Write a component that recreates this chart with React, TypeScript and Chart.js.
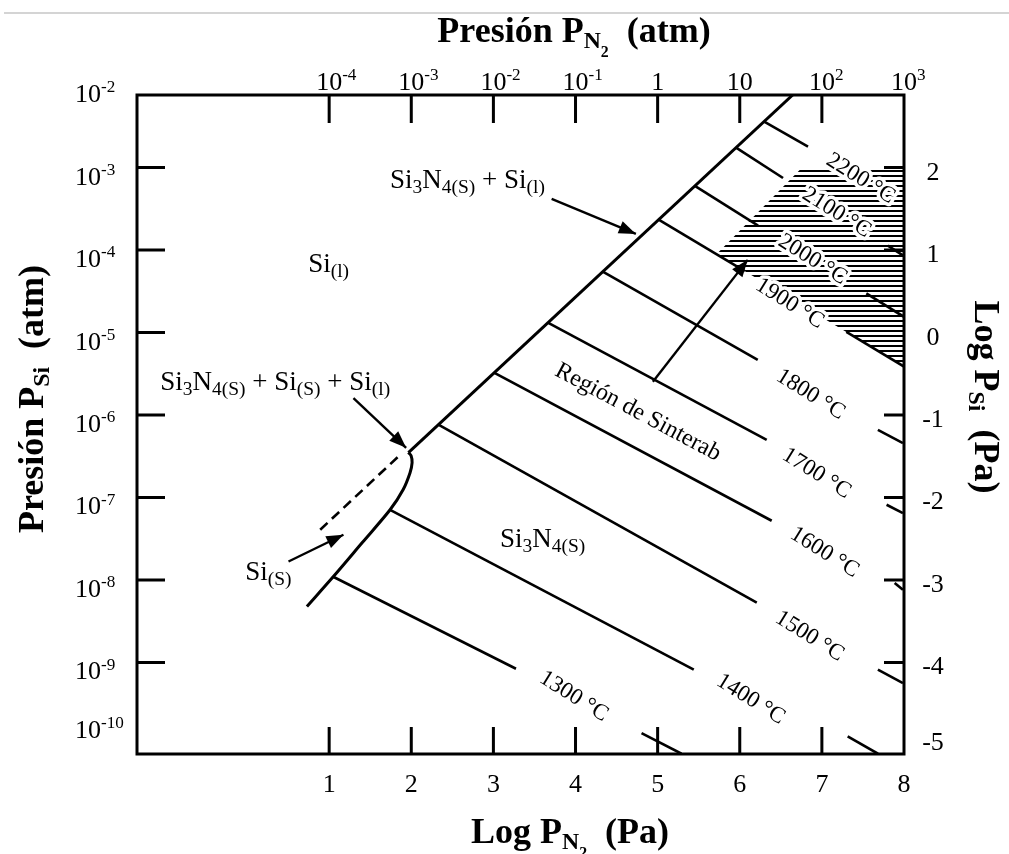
import React, { useEffect, useRef } from "react";
import { Chart, registerables } from "chart.js";

Chart.register(...registerables);

type Pt = [number, number];

const SERIF = '"Liberation Serif", "Times New Roman", serif';

// Axis ranges in log10(Pa)
const X_MIN = -1.34;
const X_MAX = 8.0;
const Y_MIN = -5.11;
const Y_MAX = 2.88;
const ATM_LOG_PA = 5; // 1 atm ~ 10^5 Pa

// Tick definitions
const topTickExponents = [-4, -3, -2, -1, 0, 1, 2];
const topLabelExponents = [-4, -3, -2, -1, 0, 1, 2, 3];
const leftTickExponents = [-3, -4, -5, -6, -7, -8, -9];
const leftLabelExponents = [-2, -3, -4, -5, -6, -7, -8, -9, -10];
const bottomTicks = [1, 2, 3, 4, 5, 6, 7];
const bottomLabels = [1, 2, 3, 4, 5, 6, 7, 8];
const rightTicks = [2, 1, -1, -2, -3, -4];
const rightLabels = [2, 1, 0, -1, -2, -3, -4, -5];

// Phase boundaries (x = log PN2 Pa, y = log PSi Pa)
const mainBoundary: Pt[] = [[1.965, -1.455], [6.644, 2.88]];
const siSolidBoundary: Pt[] = [
  [0.729, -3.321], [1.049, -2.961], [1.401, -2.549], [1.742, -2.149],
  [1.9, -1.907], [1.985, -1.7], [2.01, -1.578], [1.998, -1.494], [1.965, -1.455],
];
const siMeltDashed: Pt[] = [[0.891, -2.391], [1.843, -1.503]];

// Isotherms: visible segments
const isothermTemps = [1300, 1400, 1500, 1600, 1700, 1800, 1900, 2000, 2100, 2200];
const isothermSegments: Pt[][][] = [
  [[[1.049, -2.961], [3.275, -4.076]]],
  [[[1.742, -2.149], [5.44, -4.088]]],
  [[[2.33, -1.116], [6.207, -3.276]]],
  [[[3.007, -0.487], [6.389, -2.282]]],
  [[[3.663, 0.119], [6.328, -1.301]]],
  [[[4.332, 0.739], [6.219, -0.331]]],
  [[[5.012, 1.37], [6.061, 0.745]], [[7.298, 0.008], [8.0, -0.412]]],
  [[[5.453, 1.777], [6.223, 1.297]], [[7.541, 0.476], [7.993, 0.194]]],
  [[[5.955, 2.242], [6.527, 1.874]], [[7.804, 1.053], [7.995, 0.93]]],
  [[[6.292, 2.56], [6.831, 2.255]]],
];
const isothermLabelAt: Pt[] = [
  [3.993, -4.392], [6.146, -4.428], [6.864, -3.664], [7.046, -2.646], [6.949, -1.688],
  [6.876, -0.731], [6.621, 0.372], [6.9, 0.905], [7.192, 1.475], [7.484, 1.887],
];

// Hatched (high temperature) region
const sinterHatch: Pt[] = [[6.751, 1.993], [8.0, 1.993], [8.0, -0.412], [5.717, 0.95], [6.751, 1.993]];

// Short fragments touching the frame
const edgeFragments: Pt[][] = [
  [[4.804, -4.856], [5.291, -5.107]],
  [[7.314, -4.897], [7.683, -5.107]],
  [[7.682, -1.179], [7.987, -1.341]],
  [[7.788, -2.088], [7.987, -2.189]],
  [[7.886, -3.038], [7.987, -3.119]],
  [[7.682, -4.088], [7.987, -4.25]],
];

// Arrows (from -> to)
const arrows: Pt[][] = [
  [[3.709, 1.621], [4.735, 1.196]],
  [[1.296, -0.795], [1.937, -1.397]],
  [[0.505, -2.776], [1.174, -2.452]],
  [[4.942, -0.598], [6.097, 0.881]],
];

// Region labels (left end, baseline)
const regionTexts = [
  "Si_{(l)}",
  "Si_{3}N_{4(S)} + Si_{(l)}",
  "Si_{3}N_{4(S)} + Si_{(S)} + Si_{(l)}",
  "Si_{(S)}",
  "Si_{3}N_{4(S)}",
];
const regionAnchors: Pt[] = [[0.745, 0.736], [1.742, 1.754], [-1.056, -0.695], [-0.022, -2.998], [3.08, -2.598]];
const sinterText = "Región de Sinterab";
const sinterAnchor: Pt = [4.771, -0.949];

const titleTop = "Presión P_{N_{2}}  (atm)";
const titleBottom = "Log P_{N_{2}}  (Pa)";
const titleLeft = "Presión P_{Si}  (atm)";
const titleRight = "Log P_{Si}  (Pa)";

type Seg = { t: string; lvl: number };
function parseRich(s: string): Seg[] {
  const out: Seg[] = [];
  const stack: number[] = [];
  let lvl = 0;
  let buf = "";
  for (let i = 0; i < s.length; i++) {
    const c = s[i];
    if ((c === "_" || c === "^") && s[i + 1] === "{") {
      if (buf) { out.push({ t: buf, lvl }); buf = ""; }
      stack.push(lvl);
      lvl = lvl + (c === "_" ? -1 : 1);
      i++;
      continue;
    }
    if (c === "}" && stack.length) {
      if (buf) { out.push({ t: buf, lvl }); buf = ""; }
      lvl = stack.pop() as number;
      continue;
    }
    buf += c;
  }
  if (buf) out.push({ t: buf, lvl });
  return out;
}
const LVL: Record<string, { scale: number; dy: number }> = {
  "1": { scale: 0.66, dy: -0.38 },
  "0": { scale: 1, dy: 0 },
  "-1": { scale: 0.66, dy: 0.18 },
  "-2": { scale: 0.44, dy: 0.42 },
};
const fontFor = (size: number, bold: boolean) => `${bold ? "bold " : ""}${size}px ${SERIF}`;

type RichOpt = { bold?: boolean; align?: "left" | "center" | "right"; halo?: number; sub?: number };

function lvlOf(s: Seg, opt: RichOpt) {
  const l = LVL[String(s.lvl)];
  if (s.lvl === -1 && opt.sub) return { scale: opt.sub, dy: l.dy };
  return l;
}

function richWidth(ctx: CanvasRenderingContext2D, segs: Seg[], size: number, opt: RichOpt) {
  let w = 0;
  for (const s of segs) {
    const l = lvlOf(s, opt);
    ctx.font = fontFor(size * l.scale, !!opt.bold);
    w += ctx.measureText(s.t).width;
  }
  return w;
}

function drawRich(ctx: CanvasRenderingContext2D, text: string, x: number, y: number, size: number, opt: RichOpt = {}) {
  const segs = parseRich(text);
  const bold = !!opt.bold;
  const w = richWidth(ctx, segs, size, opt);
  const start = opt.align === "center" ? x - w / 2 : opt.align === "right" ? x - w : x;
  ctx.textAlign = "left";
  ctx.textBaseline = "alphabetic";
  const passes = opt.halo ? ["stroke", "fill"] : ["fill"];
  for (const pass of passes) {
    let cx = start;
    for (const s of segs) {
      const l = lvlOf(s, opt);
      ctx.font = fontFor(size * l.scale, bold);
      const yy = y + l.dy * size;
      if (pass === "stroke") {
        ctx.strokeStyle = "#fff";
        ctx.lineWidth = opt.halo as number;
        ctx.lineJoin = "round";
        ctx.strokeText(s.t, cx, yy);
      } else {
        ctx.fillStyle = "#000";
        ctx.fillText(s.t, cx, yy);
      }
      cx += ctx.measureText(s.t).width;
    }
  }
  return w;
}

const atmLabel = (e: number) => (e === 0 ? "1" : e === 1 ? "10" : `10^{${e}}`);

const diagramPlugin = {
  id: "diagram",
  afterDatasetsDraw(chart: any) {
    const ctx: CanvasRenderingContext2D = chart.ctx;
    const xs = chart.scales.x;
    const ys = chart.scales.y;
    const px = (p: Pt) => [xs.getPixelForValue(p[0]), ys.getPixelForValue(p[1])];
    ctx.save();
    // arrowheads
    for (const a of arrows) {
      const [x0, y0] = px(a[0]);
      const [x1, y1] = px(a[1]);
      const d = Math.hypot(x1 - x0, y1 - y0);
      const ux = (x1 - x0) / d, uy = (y1 - y0) / d;
      const L = 17, W = 6.5;
      ctx.beginPath();
      ctx.moveTo(x1, y1);
      ctx.lineTo(x1 - ux * L - uy * W, y1 - uy * L + ux * W);
      ctx.lineTo(x1 - ux * L + uy * W, y1 - uy * L - ux * W);
      ctx.closePath();
      ctx.fillStyle = "#000";
      ctx.fill();
    }
    // region labels
    regionTexts.forEach((t, i) => {
      const [x, y] = px(regionAnchors[i]);
      drawRich(ctx, t, x, y, 27, { align: "left", sub: 0.72 });
    });
    // sinter label
    {
      const [x, y] = px(sinterAnchor);
      ctx.save();
      ctx.translate(x, y);
      ctx.rotate((28 * Math.PI) / 180);
      drawRich(ctx, sinterText, 0, 8, 24, { align: "center" });
      ctx.restore();
    }
    // isotherm labels
    isothermTemps.forEach((t, i) => {
      const [x, y] = px(isothermLabelAt[i]);
      ctx.save();
      ctx.translate(x, y);
      ctx.rotate((32 * Math.PI) / 180);
      drawRich(ctx, `${t} °C`, 0, 8, 23, { align: "center", halo: i >= 6 ? 7 : 0 });
      ctx.restore();
    });
    ctx.restore();
  },
  afterDraw(chart: any) {
    const ctx: CanvasRenderingContext2D = chart.ctx;
    const { left, right, top, bottom } = chart.chartArea;
    const xs = chart.scales.x;
    const ys = chart.scales.y;
    ctx.save();
    // faint page rule
    ctx.strokeStyle = "#d4d4d4";
    ctx.lineWidth = 2;
    ctx.beginPath();
    ctx.moveTo(4, 13);
    ctx.lineTo(chart.width, 13);
    ctx.stroke();

    ctx.strokeStyle = "#000";
    ctx.lineWidth = 3;
    ctx.lineCap = "butt";
    ctx.strokeRect(left, top, right - left, bottom - top);
    ctx.beginPath();
    for (const e of leftTickExponents) {
      const y = ys.getPixelForValue(e + ATM_LOG_PA);
      ctx.moveTo(left, y); ctx.lineTo(left + 28, y);
    }
    for (const e of topTickExponents) {
      const x = xs.getPixelForValue(e + ATM_LOG_PA);
      ctx.moveTo(x, top); ctx.lineTo(x, top + 28);
    }
    for (const v of bottomTicks) {
      const x = xs.getPixelForValue(v);
      ctx.moveTo(x, bottom); ctx.lineTo(x, bottom - 27);
    }
    for (const v of rightTicks) {
      const y = ys.getPixelForValue(v);
      ctx.moveTo(right, y); ctx.lineTo(right - 20, y);
    }
    ctx.stroke();

    const tickSize = 26;
    // top labels: base "10" centred on tick
    for (const e of topLabelExponents) {
      const x = xs.getPixelForValue(e + ATM_LOG_PA);
      const base = e === 0 ? "1" : "10";
      ctx.font = fontFor(tickSize, false);
      const bw = ctx.measureText(base).width;
      drawRich(ctx, atmLabel(e), x - bw / 2, top - 5, tickSize, { align: "left" });
    }
    // left labels
    for (const e of leftLabelExponents) {
      const y = Math.min(ys.getPixelForValue(e + ATM_LOG_PA) + 17, bottom - 16);
      drawRich(ctx, atmLabel(e), left - 62, y, tickSize, { align: "left" });
    }
    // bottom labels
    for (const v of bottomLabels) {
      const x = xs.getPixelForValue(v);
      drawRich(ctx, String(v), x, bottom + 38, tickSize, { align: "center" });
    }
    // right labels
    for (const v of rightLabels) {
      const y = Math.min(ys.getPixelForValue(v) + 12, bottom - 4);
      drawRich(ctx, String(v), right + 29, y, tickSize, { align: "center" });
    }

    // titles
    const tSize = 36;
    drawRich(ctx, titleTop, 574, 42, tSize, { bold: true, align: "center" });
    drawRich(ctx, titleBottom, 570, 843, tSize, { bold: true, align: "center" });
    ctx.save();
    ctx.translate(43, 399);
    ctx.rotate(-Math.PI / 2);
    drawRich(ctx, titleLeft, 0, 0, tSize, { bold: true, align: "center" });
    ctx.restore();
    ctx.save();
    ctx.translate(975, 397);
    ctx.rotate(Math.PI / 2);
    drawRich(ctx, titleRight, 0, 0, tSize, { bold: true, align: "center" });
    ctx.restore();
    ctx.restore();
  },
};

function makeHatch(): CanvasPattern | string {
  const c = document.createElement("canvas");
  c.width = 12;
  c.height = 5;
  const g = c.getContext("2d");
  if (!g) return "#888";
  g.fillStyle = "#000";
  g.fillRect(0, 0, 12, 2);
  return g.createPattern(c, "repeat") || "#888";
}

export default function App() {
  const ref = useRef<HTMLCanvasElement>(null);
  useEffect(() => {
    document.body.style.margin = "0";
    const canvas = ref.current;
    if (!canvas) return;
    const lineDS = (pts: Pt[], extra: any = {}) => ({
      data: pts.map(([x, y]) => ({ x, y })),
      showLine: true,
      pointRadius: 0,
      pointHoverRadius: 0,
      borderColor: "#000",
      backgroundColor: "#000",
      borderWidth: 2.6,
      fill: false,
      tension: 0,
      borderCapStyle: "butt",
      ...extra,
    });
    const datasets: any[] = [
      lineDS(sinterHatch, { borderWidth: 0, fill: "shape", backgroundColor: makeHatch(), order: 10 }),
      lineDS(mainBoundary, { borderWidth: 3 }),
      lineDS(siSolidBoundary, { borderWidth: 3, tension: 0.3 }),
      lineDS(siMeltDashed, { borderWidth: 2.6, borderDash: [10, 6] }),
      ...isothermSegments.flat(1).map((seg) => lineDS(seg)),
      ...edgeFragments.map((seg) => lineDS(seg)),
      ...arrows.map((seg) => lineDS(seg, { borderWidth: 2.4 })),
    ];
    const chart = new Chart(canvas, {
      type: "scatter",
      data: { datasets },
      options: {
        animation: false,
        responsive: false,
        events: [],
        layout: { padding: { left: 137, top: 95, right: 105, bottom: 100 } },
        plugins: { legend: { display: false }, tooltip: { enabled: false } },
        scales: {
          x: { type: "linear", min: X_MIN, max: X_MAX, display: false },
          y: { type: "linear", min: Y_MIN, max: Y_MAX, display: false },
        },
      },
      plugins: [diagramPlugin],
    } as any);
    return () => chart.destroy();
  }, []);
  return (
    <div style={{ position: "fixed", left: 0, top: 0, width: 1009, height: 854, background: "#fff" }}>
      <canvas ref={ref} width={1009} height={854} style={{ display: "block" }} />
    </div>
  );
}
